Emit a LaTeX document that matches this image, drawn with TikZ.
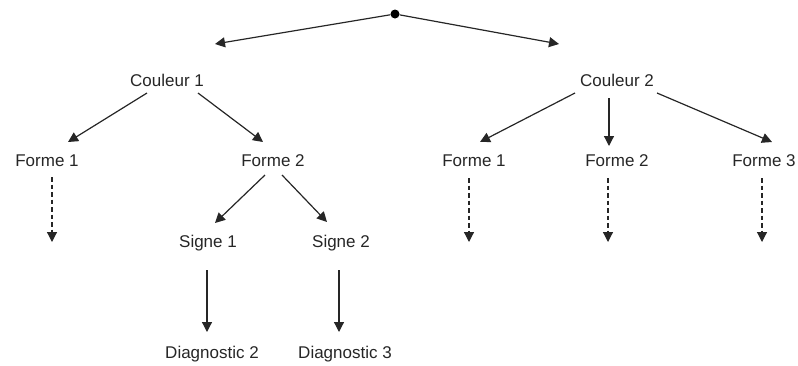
\documentclass[tikz,border=0pt]{standalone}
\usepackage{fontspec}
\setmainfont{Liberation Sans}
\usetikzlibrary{arrows.meta,calc}
\begin{document}
\begin{tikzpicture}[x=1pt,y=-1pt,
  lbl/.style={inner sep=0pt,text height=12pt,text depth=0pt,font=\fontsize{17}{20}\selectfont,text=black!85},
  arr/.style={draw=black!85,line width=1.2pt,-{Triangle[length=10pt,width=10pt]}},
  darr/.style={arr,dash pattern=on 4.5pt off 3pt},
  rootdot/.style={circle,fill=black,inner sep=0pt,minimum size=9pt}]
\useasboundingbox (0,0) rectangle (798,365);
\node[rootdot] (root) at (395,14) {};
\node[lbl] (c1) at (167,80) {Couleur 1};
\node[lbl] (c2) at (617,80) {Couleur 2};
\node[lbl] (f1) at (47,160) {Forme 1};
\node[lbl] (f2) at (273,160) {Forme 2};
\node[lbl] (g1) at (474,160) {Forme 1};
\node[lbl] (g2) at (617,160) {Forme 2};
\node[lbl] (g3) at (764,160) {Forme 3};
\node[lbl] (s1) at (208,241) {Signe 1};
\node[lbl] (s2) at (341,241) {Signe 2};
\node[lbl] (d2) at (212,352) {Diagnostic 2};
\node[lbl] (d3) at (345,352) {Diagnostic 3};
\coordinate (e1) at (52,242);
\coordinate (e2) at (469,242);
\coordinate (e3) at (608,242);
\coordinate (e4) at (762,242);
\draw[arr] (root) -- ($(c1)+(48,-36)$);
\draw[arr] (root) -- ($(c2)+(-58,-36)$);
\draw[arr] ($(c1)+(-20,13)$) -- ($(f1)+(21,-18)$);
\draw[arr] ($(c1)+(31,13)$) -- ($(f2)+(-10,-18)$);
\draw[darr] ($(f1)+(5,17)$) -- (e1);
\draw[arr] ($(f2)+(-8,15)$) -- ($(s1)+(7,-18)$);
\draw[arr] ($(f2)+(9,15)$) -- ($(s2)+(-14,-19)$);
\draw[arr] ($(s1)+(-1,29)$) -- ($(d2)+(-5,-20)$);
\draw[arr] ($(s2)+(-2,29)$) -- ($(d3)+(-6,-20)$);
\draw[arr] ($(c2)+(-42,13)$) -- ($(g1)+(6,-18)$);
\draw[arr] ($(c2)+(-8,18)$) -- ($(g2)+(-8,-14)$);
\draw[arr] ($(c2)+(40,13)$) -- ($(g3)+(8,-18)$);
\draw[darr] ($(g1)+(-5,18)$) -- (e2);
\draw[darr] ($(g2)+(-9,18)$) -- (e3);
\draw[darr] ($(g3)+(-2,18)$) -- (e4);
\end{tikzpicture}
\end{document}
